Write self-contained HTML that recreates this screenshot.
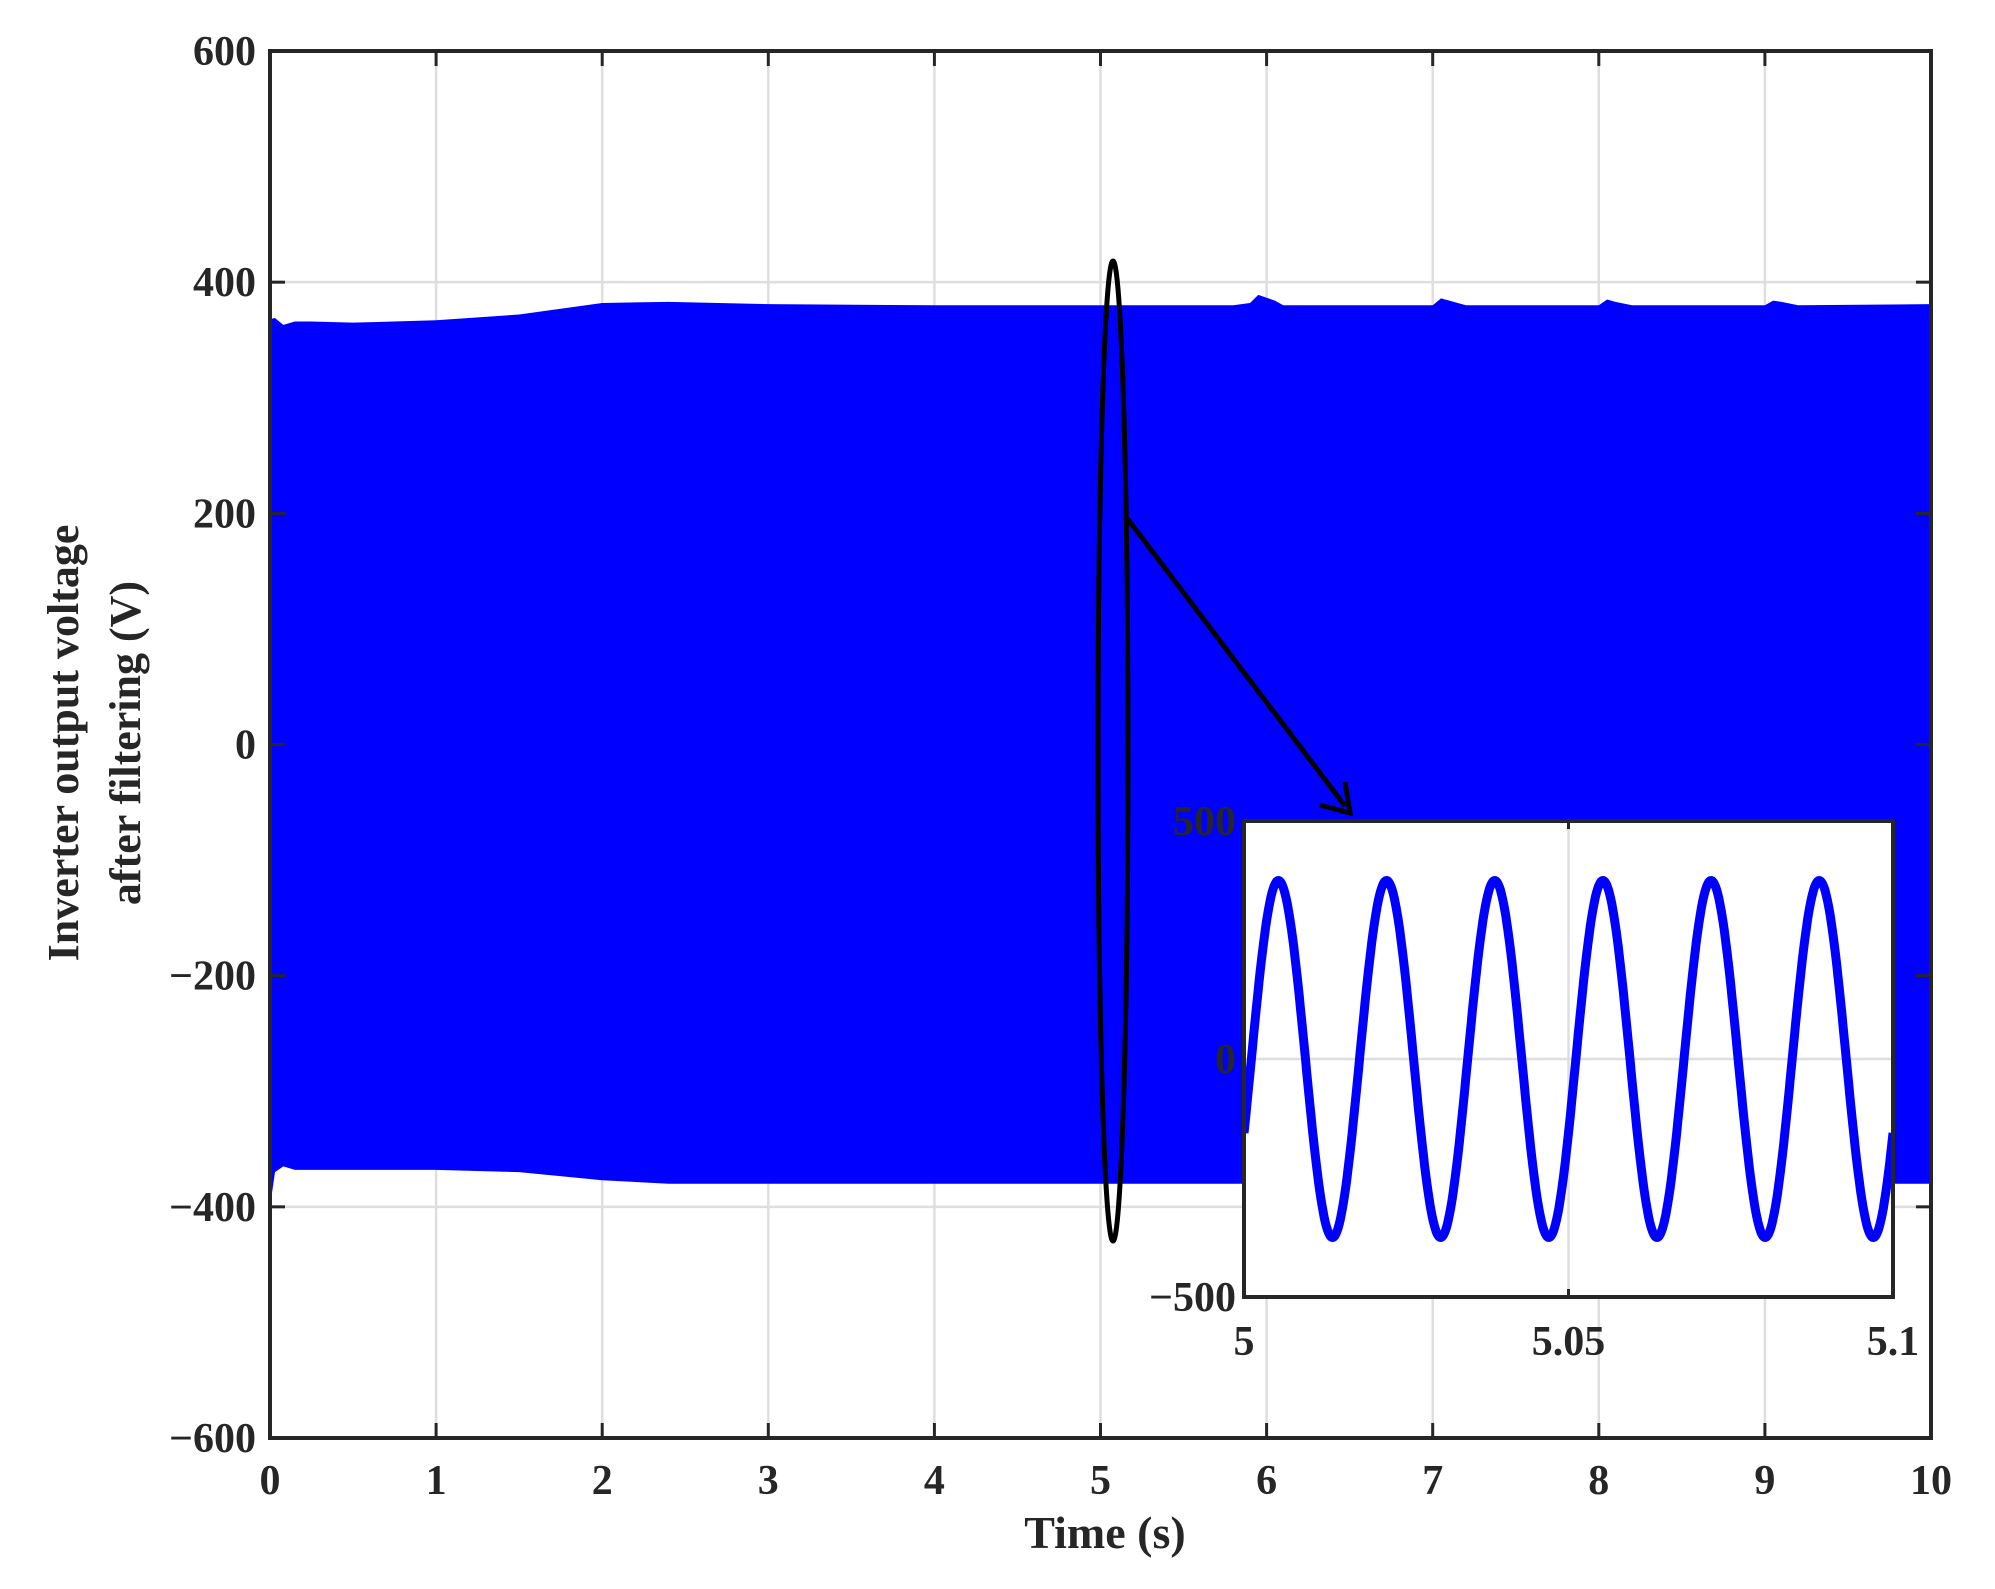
<!DOCTYPE html>
<html><head><meta charset="utf-8"><style>
html,body{margin:0;padding:0;background:#fff;}
svg{display:block;}
text{font-family:"Liberation Serif",serif;font-weight:bold;fill:#262626;}
</style></head><body>
<svg id="chart" width="1995" height="1589" viewBox="0 0 1995 1589" xmlns="http://www.w3.org/2000/svg">
<g id="main"></g>
<g id="inset"></g>
</svg>
<script>
const xTicks=[0,1,2,3,4,5,6,7,8,9,10];
const yTicks=[-600,-400,-200,0,200,400,600];
const envTimes=[0,0.03,0.08,0.15,0.25,0.5,1,1.5,2,2.4,3,4,5,5.8,5.9,5.95,6.05,6.1,7,7.05,7.1,7.2,8,8.05,8.1,8.2,9,9.05,9.1,9.2,10];
const envUpper=[368,369,363,366,366,365,367,372,382,383,381,380,380,380,382,389,384,380,380,386,384,380,380,385,383,380,380,384,383,380,381];
const envLower=[-400,-370,-365,-368,-368,-368,-368,-370,-377,-380,-380,-380,-380,-380,-380,-380,-380,-380,-380,-380,-380,-380,-380,-380,-380,-380,-380,-380,-380,-380,-380];
const insetXTicks=[5,5.05,5.1];
const insetXLabels=["5","5.05","5.1"];
const insetYTicks=[-500,0,500];
const insetYLabels=["\u2212500","0","500"];
const waveAmp=[375];
const waveFreq=[60];
const wavePeakTime=[5.0053];

const NS="http://www.w3.org/2000/svg";
function el(tag,attrs,parent){const e=document.createElementNS(NS,tag);for(const k in attrs)e.setAttribute(k,attrs[k]);parent.appendChild(e);return e;}
const L=270,R=1931,T=51,B=1438;
const xs=v=>L+(v-0)/(10-0)*(R-L);
const ys=v=>B-(v+600)/1200*(B-T);
const main=document.getElementById('main');
const fmt=v=>v<0?"\u2212"+Math.abs(v):String(v);

xTicks.forEach(t=>{const g=el('line',{x1:xs(t),x2:xs(t),y1:T,y2:B,stroke:'#dedede','stroke-width':2.5},main);

});
yTicks.forEach(t=>{const g=el('line',{x1:L,x2:R,y1:ys(t),y2:ys(t),stroke:'#dedede','stroke-width':2.5},main);

});

let pts=[];
envTimes.forEach((t,i)=>pts.push(xs(t)+','+ys(envUpper[i])));
for(let i=envTimes.length-1;i>=0;i--)pts.push(xs(envTimes[i])+','+ys(envLower[i]));
const band=el('polygon',{points:pts.join(' '),fill:'#0000ff'},main);



const box=el('rect',{x:L,y:T,width:R-L,height:B-T,fill:'none',stroke:'#262626','stroke-width':4},main);


xTicks.forEach(t=>{
 el('line',{x1:xs(t),x2:xs(t),y1:B,y2:B-15,stroke:'#262626','stroke-width':3},main);
 el('line',{x1:xs(t),x2:xs(t),y1:T,y2:T+15,stroke:'#262626','stroke-width':3},main);
 const tx=el('text',{x:xs(t),y:B+56,'font-size':42,'text-anchor':'middle'},main);tx.textContent=t;
 
 
});
yTicks.forEach(t=>{
 el('line',{x1:L,x2:L+15,y1:ys(t),y2:ys(t),stroke:'#262626','stroke-width':3},main);
 el('line',{x1:R,x2:R-15,y1:ys(t),y2:ys(t),stroke:'#262626','stroke-width':3},main);
 const tx=el('text',{x:L-14,y:ys(t)+14,'font-size':42,'text-anchor':'end'},main);tx.textContent=fmt(t);
 
 
});
const xt=el('text',{x:1105,y:1548,'font-size':46,'text-anchor':'middle'},main);xt.textContent='Time (s)';


const yt=el('text',{transform:'translate(78,743) rotate(-90)','font-size':44,'text-anchor':'middle'},main);


const t1=el('tspan',{x:0,y:0},yt);t1.textContent='Inverter output voltage';
const t2=el('tspan',{x:0,y:62},yt);t2.textContent='after filtering (V)';

const ell=el('ellipse',{cx:1113,cy:751,rx:15,ry:490,fill:'none',stroke:'#000','stroke-width':5},main);


const ar=el('line',{x1:1127,y1:518,x2:1345,y2:806,stroke:'#000','stroke-width':5},main);


const ah=el('polyline',{points:'1320,805 1350,813 1345,782',fill:'none',stroke:'#000','stroke-width':5},main);



const inset=document.getElementById('inset');
const IL=1244,IR=1893,IT=821,IB=1297;
const ixs=v=>IL+(v-5)/0.1*(IR-IL);
const iys=v=>IB-(v+500)/1000*(IB-IT);
const ibg=el('rect',{x:IL,y:IT,width:IR-IL,height:IB-IT,fill:'#fff'},inset);


insetXTicks.forEach(t=>el('line',{x1:ixs(t),x2:ixs(t),y1:IT,y2:IB,stroke:'#dedede','stroke-width':2.5},inset));
insetYTicks.forEach(t=>el('line',{x1:IL,x2:IR,y1:iys(t),y2:iys(t),stroke:'#dedede','stroke-width':2.5},inset));
let wp=[];
for(let i=0;i<=600;i++){const t=5+0.1*i/600;
 const v=waveAmp[0]*Math.cos(2*Math.PI*waveFreq[0]*(t-wavePeakTime[0]));
 wp.push(ixs(t).toFixed(1)+','+iys(v).toFixed(1));}
const wave=el('polyline',{points:wp.join(' '),fill:'none',stroke:'#0000ff','stroke-width':9,'stroke-linejoin':'round'},inset);


const ibox=el('rect',{x:IL,y:IT,width:IR-IL,height:IB-IT,fill:'none',stroke:'#262626','stroke-width':4},inset);


insetXTicks.forEach((t,i)=>{
 el('line',{x1:ixs(t),x2:ixs(t),y1:IB,y2:IB-8,stroke:'#262626','stroke-width':3},inset);
 el('line',{x1:ixs(t),x2:ixs(t),y1:IT,y2:IT+8,stroke:'#262626','stroke-width':3},inset);
 const tx=el('text',{x:ixs(t),y:IB+58,'font-size':42,'text-anchor':'middle'},inset);tx.textContent=insetXLabels[i];
 
 
});
insetYTicks.forEach((t,i)=>{
 const tx=el('text',{x:IL-8,y:iys(t)+14,'font-size':42,'text-anchor':'end'},inset);tx.textContent=insetYLabels[i];
 
 
});
</script>
</body></html>
